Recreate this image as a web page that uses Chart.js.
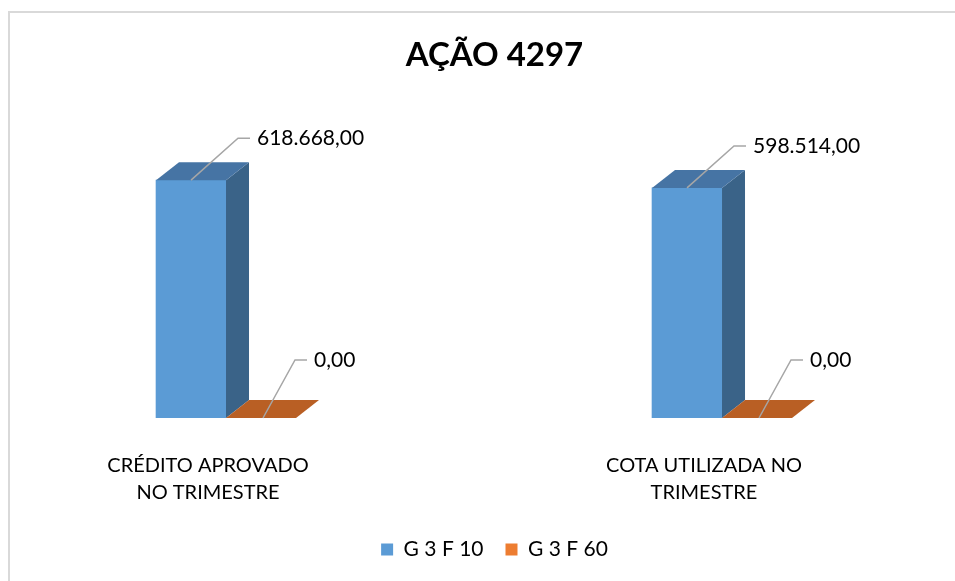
<!DOCTYPE html>
<html>
<head>
<meta charset="utf-8">
<script src="https://cdn.jsdelivr.net/npm/chart.js@4.4.1/dist/chart.umd.min.js"></script>
<style>
  html, body { margin: 0; padding: 0; background: #fff; }
  #frame { position: absolute; left: 8px; top: 11px; width: 980px; height: 600px;
           border-left: 2px solid #d9d9d9; border-top: 2px solid #d9d9d9; }
  #wrap { position: absolute; left: 0; top: 0; width: 955px; height: 581px; }
</style>
</head>
<body>
<div id="frame"></div>
<div id="wrap"><canvas id="bar-chart"></canvas></div>
<script>
const categories = [
  ["CRÉDITO APROVADO", "NO TRIMESTRE"],
  ["COTA UTILIZADA NO", "TRIMESTRE"],
];
const seriesNames = ["G 3 F 10", "G 3 F 60"];
const g3f10 = [618668, 598514];
const g3f60 = [0, 0];

const FONT = "Lato";

function fmtBR(v) {
  const parts = v.toFixed(2).split(".");
  return parts[0].replace(/\B(?=(\d{3})+(?!\d))/g, ".") + "," + parts[1];
}

// top + side faces so the columns look like the excel 3d ones
const depth3d = {
  id: "depth3d",
  afterDatasetsDraw(chart) {
    const ctx = chart.ctx;
    const dx = 23, dy = 18;
    ctx.save();
    chart.data.datasets.forEach((ds, di) => {
      chart.getDatasetMeta(di).data.forEach((bar) => {
        const l = bar.x - bar.width / 2;
        const r = bar.x + bar.width / 2;
        const top = bar.y;
        const base = bar.base;
        if (base - top > 0.5) {
          ctx.fillStyle = ds.sideColor;
          ctx.beginPath();
          ctx.moveTo(r, top);
          ctx.lineTo(r + dx, top - dy);
          ctx.lineTo(r + dx, base - dy);
          ctx.lineTo(r, base);
          ctx.closePath();
          ctx.fill();
        }
        ctx.fillStyle = ds.topColor;
        ctx.beginPath();
        ctx.moveTo(l, top);
        ctx.lineTo(r, top);
        ctx.lineTo(r + dx, top - dy);
        ctx.lineTo(l + dx, top - dy);
        ctx.closePath();
        ctx.fill();
      });
    });
    ctx.restore();
  },
};

// data labels with leader lines
const leaderLabels = {
  id: "leaderLabels",
  afterDatasetsDraw(chart) {
    const ctx = chart.ctx;
    ctx.save();
    ctx.font = "21px " + FONT;
    ctx.textBaseline = "middle";
    ctx.fillStyle = "#000";
    ctx.strokeStyle = "#a6a6a6";
    ctx.lineWidth = 1.5;
    chart.data.datasets.forEach((ds, di) => {
      chart.getDatasetMeta(di).data.forEach((bar, i) => {
        const x0 = bar.x + ds.leader[0];
        const y0 = bar.y;
        const x1 = x0 + ds.leader[1];
        const y1 = y0 - ds.leader[2];
        const x2 = x1 + 12;
        ctx.beginPath();
        ctx.moveTo(x0, y0);
        ctx.lineTo(x1, y1);
        ctx.lineTo(x2, y1);
        ctx.stroke();
        ctx.fillText(fmtBR(ds.data[i].y), x2 + 7, y1);
      });
    });
    ctx.restore();
  },
};

const BCHART = document.getElementById("bar-chart");

let barChart = new Chart(BCHART, {
  type: "bar",
  data: {
    datasets: [
      {
        label: seriesNames[0],
        data: g3f10.map((v, i) => ({ x: i, y: v })),
        backgroundColor: "#5b9bd5",
        topColor: "#4674a4",
        sideColor: "#3a6388",
        leader: [0, 47, 42],
      },
      {
        label: seriesNames[1],
        data: g3f60.map((v, i) => ({ x: i, y: v })),
        backgroundColor: "#ed7d31",
        topColor: "#b95f24",
        sideColor: "#a8541d",
        leader: [2, 32, 58],
      },
    ],
  },
  options: {
    responsive: true,
    maintainAspectRatio: false,
    animation: false,
    barThickness: 70,
    layout: { padding: { left: 54, right: 20, top: 0, bottom: 11 } },
    scales: {
      x: {
        type: "linear",
        display: false,
        offset: false,
        min: -0.3468,
        max: 1.4294,
      },
      cat: {
        type: "linear",
        axis: "x",
        position: "bottom",
        offset: false,
        min: -0.3105,
        max: 1.4657,
        grid: { display: false },
        border: { display: false },
        afterBuildTicks: (scale) => {
          scale.ticks = categories.map((c, i) => ({ value: i }));
        },
        afterFit: (scale) => {
          scale.height -= 15;
        },
        ticks: {
          autoSkip: false,
          maxRotation: 0,
          padding: 26,
          color: "#000",
          font: { family: FONT, size: 20, lineHeight: 1.35 },
          callback: (value) => categories[value],
        },
      },
      y: { display: false, min: 0, max: 828300 },
    },
    plugins: {
      tooltip: { enabled: false },
      title: {
        display: true,
        text: "AÇÃO 4297",
        color: "#000",
        font: { family: FONT, size: 33, weight: "bold" },
        padding: { top: 36, bottom: 24 },
      },
      legend: {
        position: "bottom",
        labels: {
          color: "#000",
          font: { family: FONT, size: 21 },
          boxWidth: 12,
          boxHeight: 12,
          padding: 22,
        },
      },
    },
  },
  plugins: [depth3d, leaderLabels],
});
</script>
</body>
</html>
